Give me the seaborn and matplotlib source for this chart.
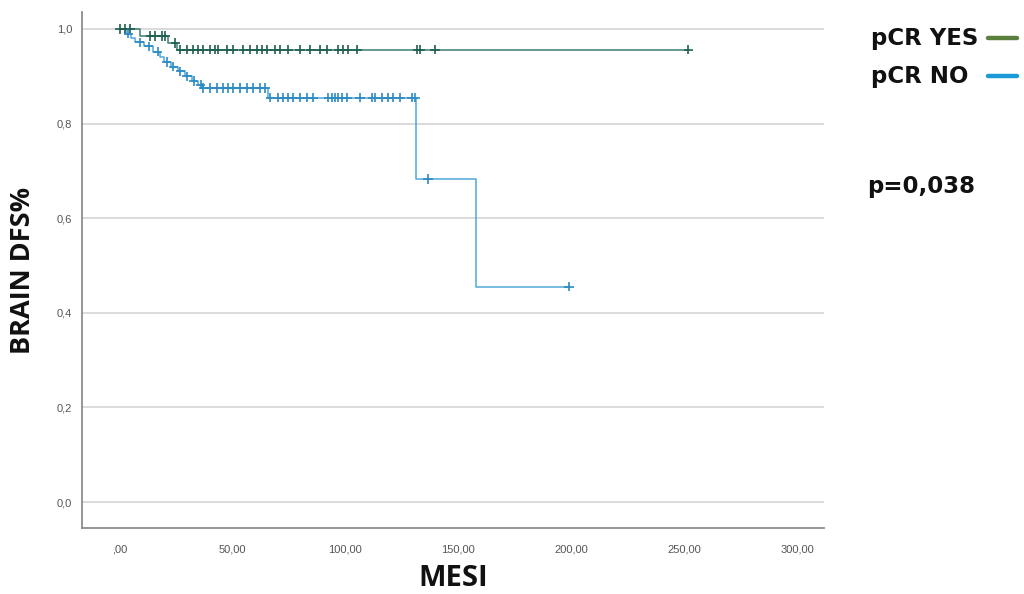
import numpy as np
import pandas as pd
import matplotlib
matplotlib.use("Agg")
import matplotlib.pyplot as plt
from matplotlib.lines import Line2D
import seaborn as sns

# Kaplan-Meier step curves (time in months, survival fraction)
yes_times = [0, 9.3, 21.7, 25.7, 251.8]
yes_surv = [1.0, 0.985, 0.970, 0.956, 0.956]

no_times = [0, 3, 5, 7, 11, 15, 18, 20, 23, 26, 29, 32, 35, 37, 66, 131.5, 158, 199]
no_surv = [1.0, 0.99, 0.98, 0.972, 0.963, 0.952, 0.94, 0.93, 0.92, 0.91,
           0.90, 0.89, 0.882, 0.875, 0.855, 0.683, 0.455, 0.455]

# Censored observations (months)
yes_censored = [0.4, 2.7, 4.9, 13.7, 15.9, 19.0, 20.4, 24.8, 27.0, 30.0, 32.7, 35.0,
                37.2, 40.3, 42.5, 43.8, 47.8, 50.4, 54.9, 58.0, 61.0, 63.3, 65.5,
                69.0, 71.2, 74.8, 80.0, 84.5, 88.9, 92.0, 96.9, 99.1, 101.3, 105.3,
                131.9, 133.2, 139.8, 251.8]
no_censored = [4, 9, 13, 17, 21, 24, 27, 30, 33, 36,
               37.2, 40.3, 43.4, 46.0, 48.2, 50.4, 53.5, 56.6, 59.3, 62.4, 64.6,
               66.8, 70.4, 72.6, 74.8, 77.0, 80.0, 83.2, 85.8, 92.5, 94.2, 95.6,
               96.9, 98.7, 100.9, 106.6, 112.0, 113.3, 116.4, 119.0, 121.0, 124.3,
               129.6, 131.0, 136.7, 199.0]

groups = ["pCR YES", "pCR NO"]
x_ticks = [0, 50, 100, 150, 200, 250, 300]
x_tick_labels = [",00", "50,00", "100,00", "150,00", "200,00", "250,00", "300,00"]
y_ticks = [0.0, 0.2, 0.4, 0.6, 0.8, 1.0]
y_tick_labels = ["0,0", "0,2", "0,4", "0,6", "0,8", "1,0"]
p_value_text = "p=0,038"

line_colors = {"pCR YES": "#3f7f74", "pCR NO": "#4ea8d8"}
mark_colors = {"pCR YES": "#1f5f50", "pCR NO": "#2c8ac4"}
legend_colors = {"pCR YES": "#5b7f3d", "pCR NO": "#1a9ad8"}


def step_value(times, surv, t):
    idx = np.searchsorted(times, t, side="right") - 1
    return surv[max(idx, 0)]


curves = pd.concat([
    pd.DataFrame({"time": yes_times, "surv": yes_surv, "group": groups[0]}),
    pd.DataFrame({"time": no_times, "surv": no_surv, "group": groups[1]}),
], ignore_index=True)

censor = pd.concat([
    pd.DataFrame({"time": yes_censored,
                  "surv": [step_value(yes_times, yes_surv, t) for t in yes_censored],
                  "group": groups[0]}),
    pd.DataFrame({"time": no_censored,
                  "surv": [step_value(no_times, no_surv, t) for t in no_censored],
                  "group": groups[1]}),
], ignore_index=True)

sns.set_theme(style="white")
plt.rcParams["font.family"] = ["Liberation Sans", "DejaVu Sans"]

fig = plt.figure(figsize=(10.24, 5.94), dpi=100)
ax = fig.add_axes([0.080, 0.111, 0.725, 0.869])

# light horizontal reference lines
for yv in y_ticks:
    ax.axhline(yv, color="#d4d4d4", lw=1.2, zorder=0)

sns.lineplot(data=curves, x="time", y="surv", hue="group", palette=line_colors,
             drawstyle="steps-post", estimator=None, lw=1.1, legend=False, ax=ax,
             zorder=2)
sns.scatterplot(data=censor, x="time", y="surv", hue="group", palette=mark_colors,
                marker="+", s=45, linewidth=1.2, legend=False, ax=ax, zorder=3)

ax.set_xlim(-16.5, 312)
ax.set_ylim(-0.055, 1.036)
ax.set_xticks(x_ticks)
ax.set_xticklabels(x_tick_labels)
ax.set_yticks(y_ticks)
ax.set_yticklabels(y_tick_labels)
ax.tick_params(axis="both", length=0, labelsize=8, colors="#555555")
ax.tick_params(axis="x", pad=12)
ax.tick_params(axis="y", pad=7)

for side in ["top", "right"]:
    ax.spines[side].set_visible(False)
for side in ["left", "bottom"]:
    ax.spines[side].set_color("#8c8c8c")
    ax.spines[side].set_linewidth(1.3)

ax.set_xlabel("MESI", labelpad=6.5, family=["Open Sans", "DejaVu Sans"],
              weight="bold", size=21, color="#111111")
ax.set_ylabel("BRAIN DFS%", labelpad=15, family=["Open Sans", "DejaVu Sans"],
              weight="bold", size=19.5, color="#111111")

# legend: bold label followed by a short colored line
side_font = dict(family="DejaVu Sans", weight="bold", size=16.5, color="#111111")
for g, yc in zip(groups, [0.936, 0.872]):
    fig.text(0.851, yc, g, va="center", ha="left", **side_font)
    fig.add_artist(Line2D([0.965, 0.993], [yc, yc],
                          color=legend_colors[g], lw=3.2,
                          transform=fig.transFigure))

fig.text(0.847, 0.686, p_value_text, va="center", ha="left", **side_font)

fig.savefig("out.png", dpi=100, facecolor="white")
